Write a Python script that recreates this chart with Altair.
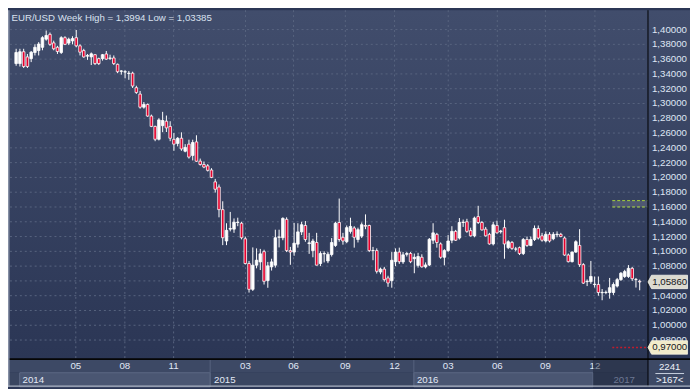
import altair as alt
import pandas as pd

# ---------------- data ----------------
opens = [1.3540, 1.3540, 1.3700, 1.3630, 1.3607, 1.3690, 1.3716, 1.3760, 1.3870, 1.3935,
         1.3820, 1.3760, 1.3690, 1.3890, 1.3817, 1.3847, 1.3890, 1.3780, 1.3716, 1.3640,
         1.3630, 1.3660, 1.3607, 1.3607, 1.3670, 1.3610, 1.3616, 1.3530, 1.3436, 1.3425,
         1.3405, 1.3410, 1.3214, 1.3127, 1.2950, 1.2987, 1.2830, 1.2690, 1.2516, 1.2700,
         1.2760, 1.2690, 1.2515, 1.2460, 1.2530, 1.2354, 1.2450, 1.2297, 1.2480, 1.2220,
         1.2175, 1.2157, 1.2100, 1.1940, 1.1870, 1.1564, 1.1140, 1.1300, 1.1300, 1.1390,
         1.1380, 1.1170, 1.0835, 1.0486, 1.0813, 1.0857, 1.0996, 1.0604, 1.0790, 1.0813,
         1.1190, 1.1184, 1.1433, 1.1010, 1.0990, 1.1097, 1.1263, 1.1350, 1.1105, 1.1010,
         1.1120, 1.0835, 1.0966, 1.0870, 1.0957, 1.1080, 1.1390, 1.1190, 1.1130, 1.1270,
         1.1316, 1.1160, 1.1206, 1.1350, 1.1350, 1.1010, 1.1010, 1.0720, 1.0760, 1.0640,
         1.0603, 1.0860, 1.0990, 1.0857, 1.0960, 1.0970, 1.0900, 1.0810, 1.0920, 1.0790,
         1.0816, 1.1150, 1.1230, 1.1100, 1.0920, 1.1010, 1.1150, 1.1270, 1.1180, 1.1390,
         1.1400, 1.1280, 1.1210, 1.1470, 1.1390, 1.1300, 1.1230, 1.1100, 1.1350, 1.1265,
         1.1320, 1.1050, 1.1120, 1.1030, 1.1050, 1.0970, 1.1160, 1.1080, 1.1160, 1.1310,
         1.1210, 1.1140, 1.1230, 1.1170, 1.1225, 1.1230, 1.1180, 1.0950, 1.0860, 1.0990,
         1.1080, 1.0820, 1.0590, 1.0590, 1.0550, 1.0552, 1.0440, 1.0443, 1.0443, 1.0443,
         1.0530, 1.0617, 1.0660, 1.0660, 1.0770, 1.0620, 1.0595]
highs = [1.3740, 1.3740, 1.3740, 1.3670, 1.3710, 1.3800, 1.3830, 1.3910, 1.3987, 1.3960,
         1.3850, 1.3780, 1.3910, 1.3910, 1.3890, 1.3910, 1.3994, 1.3800, 1.3740, 1.3670,
         1.3690, 1.3670, 1.3620, 1.3670, 1.3710, 1.3660, 1.3650, 1.3540, 1.3450, 1.3450,
         1.3440, 1.3430, 1.3240, 1.3170, 1.3020, 1.3000, 1.2850, 1.2700, 1.2800, 1.2887,
         1.2837, 1.2760, 1.2600, 1.2545, 1.2610, 1.2450, 1.2510, 1.2510, 1.2570, 1.2255,
         1.2215, 1.2180, 1.2125, 1.1980, 1.1905, 1.1677, 1.1380, 1.1533, 1.1445, 1.1455,
         1.1400, 1.1200, 1.0870, 1.1053, 1.1040, 1.1033, 1.1022, 1.0857, 1.0900, 1.1293,
         1.1293, 1.1460, 1.1460, 1.1060, 1.1385, 1.1380, 1.1400, 1.1410, 1.1250, 1.1170,
         1.1250, 1.1000, 1.1000, 1.0990, 1.1180, 1.1400, 1.1714, 1.1250, 1.1350, 1.1455,
         1.1340, 1.1320, 1.1390, 1.1500, 1.1360, 1.1060, 1.1040, 1.0780, 1.0790, 1.0670,
         1.0990, 1.1040, 1.1050, 1.0990, 1.0990, 1.0990, 1.0970, 1.0980, 1.0960, 1.0850,
         1.1180, 1.1380, 1.1250, 1.1120, 1.1030, 1.1220, 1.1340, 1.1290, 1.1450, 1.1430,
         1.1440, 1.1320, 1.1470, 1.1616, 1.1410, 1.1330, 1.1250, 1.1400, 1.1415, 1.1290,
         1.1428, 1.1150, 1.1140, 1.1060, 1.1065, 1.1180, 1.1200, 1.1200, 1.1350, 1.1350,
         1.1250, 1.1270, 1.1260, 1.1260, 1.1270, 1.1250, 1.1200, 1.0970, 1.1000, 1.1150,
         1.1300, 1.0840, 1.0620, 1.0870, 1.0660, 1.0660, 1.0490, 1.0470, 1.0640, 1.0580,
         1.0640, 1.0720, 1.0750, 1.0814, 1.0790, 1.0640, 1.0617]
lows = [1.3510, 1.3500, 1.3480, 1.3480, 1.3560, 1.3650, 1.3650, 1.3720, 1.3850, 1.3780,
        1.3720, 1.3670, 1.3670, 1.3790, 1.3790, 1.3800, 1.3760, 1.3650, 1.3620, 1.3590,
        1.3520, 1.3520, 1.3520, 1.3580, 1.3590, 1.3590, 1.3520, 1.3410, 1.3390, 1.3340,
        1.3320, 1.3210, 1.3130, 1.2930, 1.2930, 1.2820, 1.2680, 1.2490, 1.2500, 1.2612,
        1.2614, 1.2490, 1.2360, 1.2420, 1.2360, 1.2340, 1.2254, 1.2230, 1.2210, 1.2160,
        1.2125, 1.2080, 1.1990, 1.1795, 1.1460, 1.1084, 1.1084, 1.1270, 1.1250, 1.1340,
        1.1162, 1.0822, 1.0442, 1.0464, 1.0770, 1.0747, 1.0551, 1.0507, 1.0740, 1.0780,
        1.1053, 1.1150, 1.0990, 1.0818, 1.0940, 1.1050, 1.1220, 1.1130, 1.0966, 1.0920,
        1.0810, 1.0800, 1.0850, 1.0840, 1.0930, 1.1060, 1.1130, 1.1090, 1.1110, 1.1240,
        1.1050, 1.1120, 1.1180, 1.1300, 1.0990, 1.0880, 1.0700, 1.0690, 1.0590, 1.0520,
        1.0508, 1.0800, 1.0830, 1.0830, 1.0930, 1.0840, 1.0704, 1.0780, 1.0780, 1.0770,
        1.0800, 1.1100, 1.1050, 1.0900, 1.0810, 1.0990, 1.1110, 1.1140, 1.1160, 1.1330,
        1.1250, 1.1200, 1.1190, 1.1370, 1.1280, 1.1200, 1.1090, 1.1080, 1.1240, 1.1240,
        1.0900, 1.1030, 1.1020, 1.1000, 1.0950, 1.0950, 1.1060, 1.1070, 1.1140, 1.1160,
        1.1130, 1.1120, 1.1120, 1.1150, 1.1190, 1.1190, 1.0940, 1.0850, 1.0850, 1.0980,
        1.0790, 1.0560, 1.0530, 1.0560, 1.0510, 1.0400, 1.03385, 1.0420, 1.0360, 1.0410,
        1.0510, 1.0600, 1.0640, 1.0640, 1.0600, 1.0510, 1.0473]
closes = [1.3690, 1.3700, 1.3500, 1.3500, 1.3694, 1.3760, 1.3804, 1.3890, 1.3920, 1.3800,
          1.3740, 1.3703, 1.3890, 1.3800, 1.3869, 1.3878, 1.3780, 1.3694, 1.3630, 1.3650,
          1.3672, 1.3540, 1.3540, 1.3660, 1.3600, 1.3616, 1.3540, 1.3430, 1.3440, 1.3430,
          1.3410, 1.3236, 1.3149, 1.2950, 1.2987, 1.2830, 1.2690, 1.2516, 1.2778, 1.2770,
          1.2670, 1.2530, 1.2450, 1.2530, 1.2385, 1.2406, 1.2275, 1.2472, 1.2219, 1.2175,
          1.2140, 1.2096, 1.2000, 1.1840, 1.1564, 1.1184, 1.1284, 1.1310, 1.1394, 1.1395,
          1.1184, 1.0835, 1.0486, 1.0813, 1.0880, 1.0966, 1.0595, 1.0804, 1.0857, 1.1184,
          1.1195, 1.1446, 1.1010, 1.0990, 1.1110, 1.1263, 1.1360, 1.1160, 1.1115, 1.1140,
          1.0813, 1.0970, 1.0970, 1.0960, 1.1119, 1.1380, 1.1160, 1.1140, 1.1320, 1.1337,
          1.1190, 1.1293, 1.1360, 1.1340, 1.1010, 1.1012, 1.0730, 1.0760, 1.0617, 1.0572,
          1.0879, 1.0990, 1.0860, 1.0953, 1.0970, 1.0860, 1.0920, 1.0930, 1.0790, 1.0816,
          1.1163, 1.1250, 1.1120, 1.0920, 1.1010, 1.1140, 1.1270, 1.1150, 1.1390, 1.1395,
          1.1270, 1.1210, 1.1450, 1.1390, 1.1290, 1.1210, 1.1100, 1.1359, 1.1250, 1.1275,
          1.1100, 1.1130, 1.1040, 1.1032, 1.0970, 1.1160, 1.1080, 1.1160, 1.1310, 1.1180,
          1.1150, 1.1230, 1.1140, 1.1230, 1.1232, 1.1200, 1.0950, 1.0860, 1.0990, 1.1130,
          1.0820, 1.0570, 1.0595, 1.0660, 1.0555, 1.0443, 1.0445, 1.0446, 1.0508, 1.0552,
          1.0617, 1.0704, 1.0726, 1.0770, 1.0630, 1.0617, 1.0586]

title_text = "EUR/USD Week High = 1,3994 Low = 1,03385"
y_ticks = [0.98, 1.00, 1.02, 1.04, 1.06, 1.08, 1.10, 1.12, 1.14, 1.16, 1.18,
           1.20, 1.22, 1.24, 1.26, 1.28, 1.30, 1.32, 1.34, 1.36, 1.38, 1.40]
month_labels = ["05", "08", "11", "03", "06", "09", "12", "03", "06", "09", "12"]
month_pos = [16.88, 29.94, 42.92, 62.05, 74.85, 88.63, 101.74, 116.03, 129.09, 141.89, 155.08]
years = ["2014", "2015", "2016", "2017"]
year_start = [1.95, 52.65, 106.87, 154.57]
year_end = [52.65, 106.87, 154.57, 167.76]
year_text_pos = [2.72, 53.7, 107.7, 160.0]
last_price = [1.0586]
last_label = ["1,05860"]
level_price = [0.97]
level_label = ["0,97000"]
band_values = [1.1600, 1.1686]
marker_start = [159.7]
bar_count = ["2241"]
visible_bars = [">167<"]

# ---------------- tables ----------------
n = len(opens)
df = pd.DataFrame({"idx": list(range(1, n + 1)), "open": opens, "high": highs,
                   "low": lows, "close": closes})
df["top"] = df[["open", "close"]].max(axis=1)
df["bot"] = df[["open", "close"]].min(axis=1)
df["dir"] = ["up" if c >= o else "down" for o, c in zip(opens, closes)]

one = pd.DataFrame({"a": [0]})
FONT = "Liberation Sans, Arial, sans-serif"
FS = 9.8
XS = alt.Scale(domain=[0.673, 167.76], nice=False, zero=False)
YS = alt.Scale(domain=[0.95554, 1.42619], nice=False, zero=False)
W, H = 645, 352

def X(f):
    return alt.X(f, scale=XS, axis=None)

def Y(f):
    return alt.Y(f, scale=YS, axis=None)

grad = alt.Gradient(gradient="linear",
                    stops=[alt.GradientStop(color="#414d6c", offset=0),
                           alt.GradientStop(color="#2b3655", offset=1)],
                    x1=0, x2=0, y1=0, y2=1)

bg = alt.Chart(one).mark_rect(fill=grad).encode(
    x=alt.value(-2), x2=alt.value(688), y=alt.value(0), y2=alt.value(353))

vgrid = alt.Chart(pd.DataFrame({"idx": month_pos})).mark_rule(
    color="#58647f", strokeDash=[2, 3], strokeWidth=1).encode(
    x=X("idx:Q"), y=alt.value(0), y2=alt.value(H))

hgrid = alt.Chart(pd.DataFrame({"v": y_ticks})).mark_rule(
    color="#58647f", strokeDash=[2, 3], strokeWidth=1).encode(
    y=Y("v:Q"), x=alt.value(0), x2=alt.value(W))

band_df = pd.DataFrame({"lo": [band_values[0]], "hi": [band_values[1]], "s": marker_start})
band = alt.Chart(band_df).mark_rect(fill="#8c919c", opacity=0.3).encode(
    x=X("s:Q"), x2=alt.value(W), y=Y("lo:Q"), y2="hi:Q")
band_lines = alt.Chart(pd.DataFrame({"v": band_values, "s": marker_start * 2})).mark_rule(
    color="#a8d43c", strokeDash=[3, 2], strokeWidth=1).encode(
    x=X("s:Q"), x2=alt.value(W), y=Y("v:Q"))
level_line = alt.Chart(pd.DataFrame({"v": level_price, "s": marker_start})).mark_rule(
    color="#c21c2c", strokeDash=[2, 2], strokeWidth=1.5).encode(
    x=X("s:Q"), x2=alt.value(W), y=Y("v:Q"))

wicks = alt.Chart(df).mark_rule(color="#ffffff", strokeWidth=1).encode(
    x=X("idx:Q"), y=Y("low:Q"), y2="high:Q")

bodies = alt.Chart(df).mark_bar(width=2.6, stroke="#ffffff", strokeWidth=0.8).encode(
    x=X("idx:Q"), y=Y("bot:Q"), y2="top:Q",
    fill=alt.Fill("dir:N", scale=alt.Scale(domain=["up", "down"],
                                           range=["#ffffff", "#e5002d"]), legend=None))

ylabels = alt.Chart(pd.DataFrame({"v": y_ticks})).transform_calculate(
    lab="replace(format(datum.v, '.5f'), '.', ',')").mark_text(
    align="left", baseline="middle", font=FONT, fontSize=FS, color="#dfe6f4").encode(
    y=Y("v:Q"), x=alt.value(649.5), text="lab:N")

# bottom panel
year_df = pd.DataFrame({"year": years, "s": year_start, "e": year_end, "t": year_text_pos})
month_row = alt.Chart(one).mark_rect(fill="#3d4965").encode(
    x=alt.value(-2), x2=alt.value(W), y=alt.value(353.5), y2=alt.value(366.3))
year_row = alt.Chart(one).mark_rect(fill="#3a4661").encode(
    x=alt.value(-2), x2=alt.value(W), y=alt.value(366.3), y2=alt.value(381))
year_boxes = alt.Chart(year_df).transform_filter(
    alt.FieldOneOfPredicate(field="year", oneOf=["2014", "2016"])).mark_rect(
    fill="#4a5672", stroke="#5e6a86", strokeWidth=1).encode(
    x=X("s:Q"), x2="e:Q", y=alt.value(366.8), y2=alt.value(381))
dividers = alt.Chart(year_df.iloc[1:3]).mark_rule(color="#56627e", strokeWidth=1).encode(
    x=X("s:Q"), y=alt.value(353.5), y2=alt.value(381))
month_text = alt.Chart(pd.DataFrame({"idx": month_pos, "m": month_labels})).mark_text(
    align="center", baseline="middle", font=FONT, fontSize=FS, color="#e0e8f6").encode(
    x=X("idx:Q"), y=alt.value(360.2), text="m:N")
overlay = alt.Chart(year_df.iloc[3:4]).mark_rect(fill="#1a2236", opacity=0.45).encode(
    x=X("s:Q"), x2=alt.value(W), y=alt.value(353.8), y2=alt.value(381))
year_text = alt.Chart(year_df.iloc[0:3]).mark_text(
    align="left", baseline="middle", font=FONT, fontSize=FS, color="#e2e9f6").encode(
    x=X("t:Q"), y=alt.value(374), text="year:N")
year_text_dim = alt.Chart(year_df.iloc[3:4]).mark_text(
    align="left", baseline="middle", font=FONT, fontSize=FS, color="#6d7893").encode(
    x=X("t:Q"), y=alt.value(374), text="year:N")

corner = alt.Chart(one).mark_rect(fill="#3d4965").encode(
    x=alt.value(645.5), x2=alt.value(688), y=alt.value(353.5), y2=alt.value(381))
corner_line = alt.Chart(one).mark_rule(color="#c9d1e0", strokeWidth=1).encode(
    x=alt.value(653), x2=alt.value(682), y=alt.value(367.6))
corner_top = alt.Chart(pd.DataFrame({"t": bar_count})).mark_text(
    align="center", baseline="middle", font=FONT, fontSize=FS, color="#eef2fa").encode(
    x=alt.value(667.5), y=alt.value(361), text="t:N")
corner_bot = alt.Chart(pd.DataFrame({"t": visible_bars})).mark_text(
    align="center", baseline="middle", font=FONT, fontSize=FS, color="#eef2fa").encode(
    x=alt.value(667.5), y=alt.value(374.5), text="t:N")

hline = alt.Chart(one).mark_rule(color="#050505", strokeWidth=1.6).encode(
    x=alt.value(-2), x2=alt.value(688), y=alt.value(353))
vline = alt.Chart(one).mark_rule(color="#000000", strokeWidth=1).encode(
    x=alt.value(645.5), y=alt.value(0), y2=alt.value(381))
left_border = alt.Chart(one).mark_rule(color="#8a93a8", strokeWidth=1.5).encode(
    x=alt.value(-1.2), y=alt.value(0), y2=alt.value(381))
bottom_border = alt.Chart(one).mark_rule(color="#aab2c2", strokeWidth=1.4).encode(
    x=alt.value(-2), x2=alt.value(688), y=alt.value(380.3))

TAG = "M-1,0L-0.82,-0.34L1,-0.34L1,0.34L-0.82,0.34Z"
tag_last = alt.Chart(pd.DataFrame({"v": last_price, "t": last_label})).mark_point(
    shape=TAG, size=1600, filled=True, fill="#dcdbd0", stroke="#f4f4ec",
    strokeWidth=0.8, opacity=1).encode(x=alt.value(665.5), y=Y("v:Q"))
tag_last_t = alt.Chart(pd.DataFrame({"v": last_price, "t": last_label})).mark_text(
    align="center", baseline="middle", font=FONT, fontSize=FS, color="#15161c").encode(
    x=alt.value(667.5), y=Y("v:Q"), text="t:N")
tag_lvl = alt.Chart(pd.DataFrame({"v": level_price, "t": level_label})).mark_point(
    shape=TAG, size=1600, filled=True, fill="#f1ebca", stroke="#f8f4e0",
    strokeWidth=0.8, opacity=1).encode(x=alt.value(665.5), y=Y("v:Q"))
tag_lvl_t = alt.Chart(pd.DataFrame({"v": level_price, "t": level_label})).mark_text(
    align="center", baseline="middle", font=FONT, fontSize=FS, color="#15161c").encode(
    x=alt.value(667.5), y=Y("v:Q"), text="t:N")

title = alt.Chart(pd.DataFrame({"t": [title_text]})).mark_text(
    align="left", baseline="middle", font=FONT, fontSize=FS, color="#d9e1ef").encode(
    x=alt.value(1.5), y=alt.value(7.5), text="t:N")

chart = alt.layer(
    bg, vgrid, hgrid, band, band_lines, level_line, wicks, bodies,
    month_row, year_row, year_boxes, dividers, month_text, overlay, year_text, year_text_dim,
    corner, corner_line, corner_top, corner_bot,
    hline, vline, left_border, bottom_border,
    ylabels, tag_last, tag_last_t, tag_lvl, tag_lvl_t, title
).properties(
    width=W, height=H,
    padding={"left": 2, "top": 0, "right": 43, "bottom": 29},
    autosize=alt.AutoSizeParams(type="none"),
    background="#2b3655"
).configure_view(stroke=None)

chart.save("out.html", embed_options={"renderer": "svg", "actions": False})
